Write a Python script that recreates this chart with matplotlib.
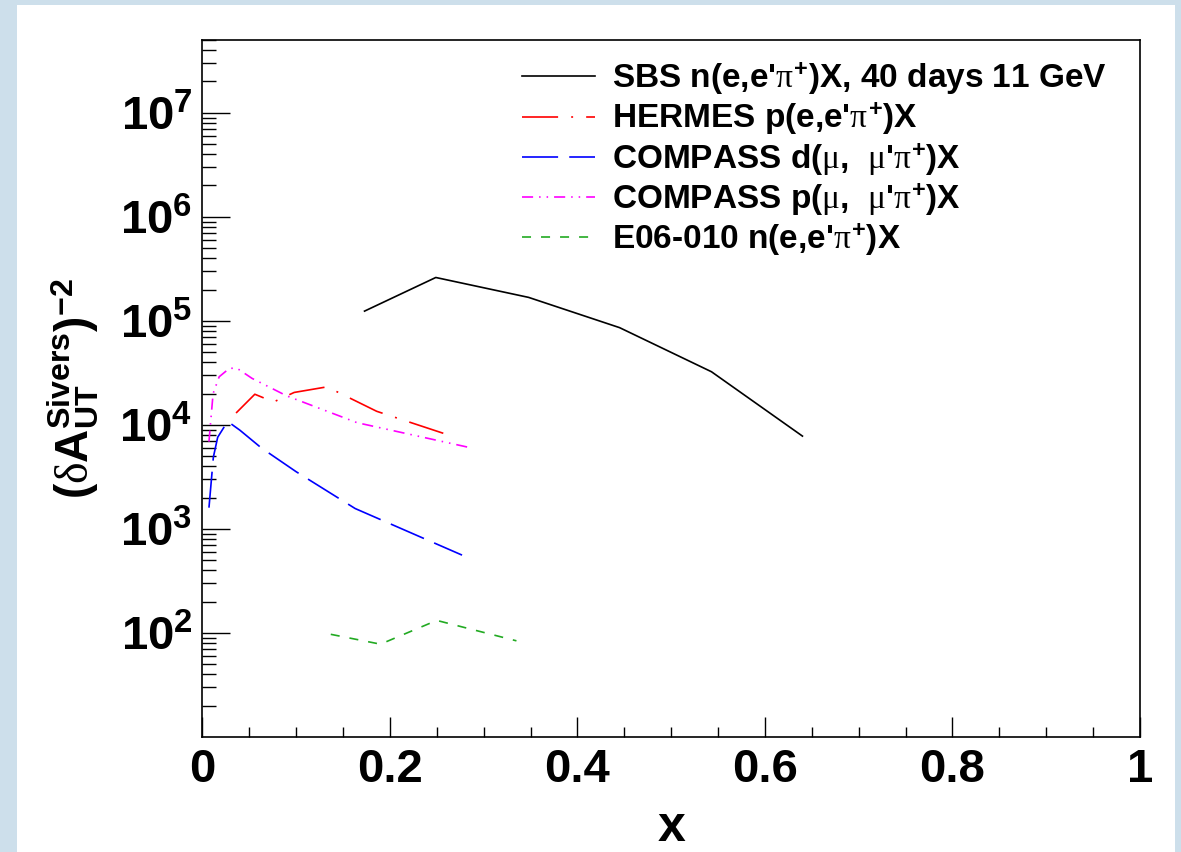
import numpy as np
import matplotlib
matplotlib.use('Agg')
import matplotlib.pyplot as plt
from matplotlib.ticker import LogLocator, MultipleLocator, NullFormatter
from matplotlib.patches import Rectangle

plt.rcParams['font.family'] = ['Liberation Sans', 'DejaVu Sans']
plt.rcParams['font.weight'] = 'bold'
plt.rcParams['mathtext.fontset'] = 'custom'
plt.rcParams['mathtext.rm'] = 'Liberation Sans:bold'
plt.rcParams['mathtext.bf'] = 'Liberation Sans:bold'
plt.rcParams['mathtext.it'] = 'Liberation Serif:regular'
plt.rcParams['mathtext.default'] = 'it'
plt.rcParams['lines.scale_dashes'] = False

# values
sbs_x = [0.173, 0.249, 0.348, 0.445, 0.543, 0.640]
sbs_y = [1.24e5, 2.61e5, 1.68e5, 8.6e4, 3.24e4, 7.8e3]
hermes_x = [0.036, 0.056, 0.076, 0.098, 0.133, 0.186, 0.257]
hermes_y = [1.30e4, 1.97e4, 1.66e4, 2.05e4, 2.32e4, 1.35e4, 8.3e3]
compd_x = [0.0071, 0.0118, 0.0164, 0.027, 0.040, 0.063, 0.100, 0.163, 0.277]
compd_y = [1.6e3, 4.9e3, 7.6e3, 1.08e4, 8.9e3, 6.0e3, 3.55e3, 1.57e3, 5.6e2]
compp_x = [0.0071, 0.0115, 0.018, 0.029, 0.037, 0.053, 0.090, 0.165, 0.287]
compp_y = [6.9e3, 2.0e4, 2.9e4, 3.5e4, 3.5e4, 2.8e4, 1.9e4, 1.05e4, 6.0e3]
e06_x = [0.137, 0.190, 0.250, 0.335]
e06_y = [97, 78, 132, 84]

labels = ["SBS n(e,e'$\\pi^{+}$)X, 40 days 11 GeV",
          "HERMES p(e,e'$\\pi^{+}$)X",
          "COMPASS d($\\mu$,  $\\mu$'$\\pi^{+}$)X",
          "COMPASS p($\\mu$,  $\\mu$'$\\pi^{+}$)X",
          "E06-010 n(e,e'$\\pi^{+}$)X"]
xticks = [0, 0.2, 0.4, 0.6, 0.8, 1]
xtick_labels = ['0', '0.2', '0.4', '0.6', '0.8', '1']
yticks = [1e2, 1e3, 1e4, 1e5, 1e6, 1e7]

fig = plt.figure(figsize=(11.81, 8.52), dpi=100)
fig.patch.set_facecolor('#cddfeb')
fig.add_artist(Rectangle((0.0144, 0), 0.9805, 0.994, transform=fig.transFigure,
                         facecolor='white', edgecolor='none', zorder=-1))
ax = fig.add_axes([0.1713, 0.135, 0.794, 0.818])

lw = 1.2
ax.plot(sbs_x, sbs_y, color='black', lw=lw, label=labels[0])
ax.plot(hermes_x, hermes_y, color='red', lw=lw, dashes=(26, 9.4, 1.4, 9.4), label=labels[1])
ax.plot(compd_x, compd_y, color='blue', lw=lw, dashes=(26, 8), label=labels[2])
ax.plot(compp_x, compp_y, color='magenta', lw=lw, dashes=(8, 4.3, 1.1, 4.3, 1.1, 4.3), label=labels[3])
ax.plot(e06_x, e06_y, color='#22aa22', lw=lw, dashes=(6.5, 7.2), label=labels[4])

ax.set_yscale('log')
ax.set_xlim(0, 1)
ax.set_ylim(10, 5e7)
ax.set_xticks(xticks, xtick_labels)
ax.xaxis.set_minor_locator(MultipleLocator(0.05))
ax.set_yticks(yticks)
ax.yaxis.set_minor_locator(LogLocator(base=10, subs=np.arange(2, 10), numticks=100))
ax.yaxis.set_minor_formatter(NullFormatter())

ax.tick_params(axis='both', which='both', direction='in', width=1, colors='black')
ax.tick_params(axis='x', which='major', length=14.4, labelsize=34, pad=8)
ax.tick_params(axis='x', which='minor', length=7.2)
ax.tick_params(axis='y', which='major', length=20, labelsize=34, pad=7)
ax.tick_params(axis='y', which='minor', length=10)
for s in ax.spines.values():
    s.set_linewidth(1.2)

ax.set_xlabel('x', fontsize=36, fontweight='bold')
ax.xaxis.set_label_coords(0.5, -0.098)
ax.set_ylabel('$(\\delta\\mathbf{A}^{\\mathbf{Sivers}}_{\\mathbf{UT}})^{-2}$', fontsize=33)
ax.yaxis.set_label_coords(-0.108, 0.5)

ax.legend(loc='upper left', bbox_to_anchor=(0.341, 0.97), frameon=False,
          fontsize=24, handlelength=2.19, handletextpad=0.51,
          borderaxespad=0, borderpad=0, labelspacing=0.12)

fig.savefig('out.png', dpi=100, facecolor=fig.get_facecolor())
